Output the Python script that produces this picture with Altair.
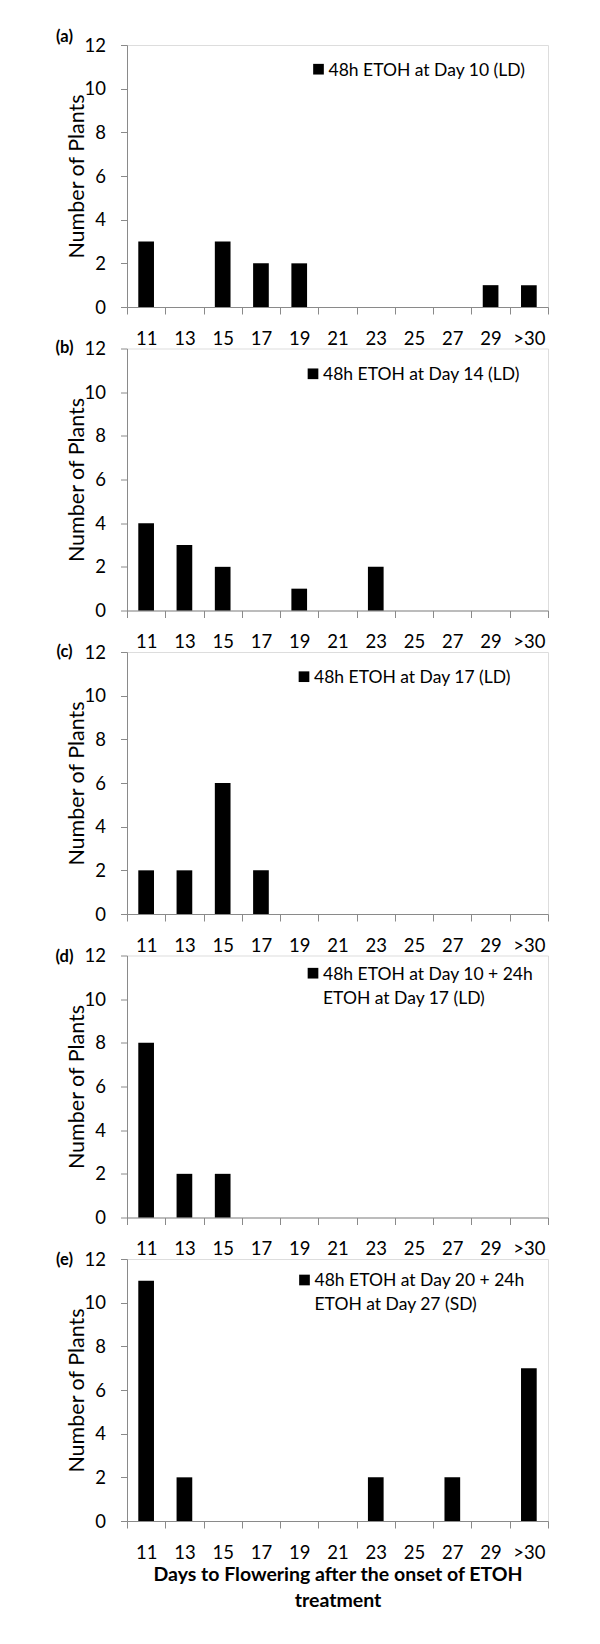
import altair as alt
import pandas as pd

categories = ["11", "13", "15", "17", "19", "21", "23", "25", "27", "29", ">30"]
panel_letters = ["(a)", "(b)", "(c)", "(d)", "(e)"]
legend_labels = [
    "48h ETOH at Day 10 (LD)",
    "48h ETOH at Day 14 (LD)",
    "48h ETOH at Day 17 (LD)",
    "48h ETOH at Day 10 + 24h\nETOH at Day 17 (LD)",
    "48h ETOH at Day 20 + 24h\nETOH at Day 27 (SD)",
]
counts_a = [3, 0, 3, 2, 2, 0, 0, 0, 0, 1, 1]
counts_b = [4, 3, 2, 0, 1, 0, 2, 0, 0, 0, 0]
counts_c = [2, 2, 6, 2, 0, 0, 0, 0, 0, 0, 0]
counts_d = [8, 2, 2, 0, 0, 0, 0, 0, 0, 0, 0]
counts_e = [11, 2, 0, 0, 0, 0, 2, 0, 2, 0, 7]
series = [counts_a, counts_b, counts_c, counts_d, counts_e]
y_ticks = [0, 2, 4, 6, 8, 10, 12]
x_title = ["Days to Flowering after the onset of ETOH", "treatment"]
y_title = "Number of Plants"

# layout (pixels, relative to each plot area)
W, H = 421, 262
legend_pos = [(191.5, 24.2), (186, 25.3), (177, 24.7), (186, 17.7), (177.5, 21.0)]
letter_dy = [-8, -1, 0, 1, 1]

FONT = "Lato"
GRAY = "#8a8a8a"


def panel(i):
    df = pd.DataFrame({"day": categories, "plants": series[i]})
    xaxis_kwargs = dict(
        labelAngle=0, tickBand="extent", tickSize=7, labelPadding=15,
        labelFontSize=18.5, labelColor="black", labelFont=FONT,
        domainColor=GRAY, tickColor=GRAY,
    )
    if i == 4:
        xaxis_kwargs.update(
            titleFont=FONT, titleFontSize=19.5, titleFontWeight="bold",
            titleColor="black", titlePadding=4, titleLineHeight=26,
        )
    bars = alt.Chart(df).mark_bar(color="black", width=alt.RelativeBandSize(0.41)).encode(
        x=alt.X("day:N", sort=categories, title=None if i < 4 else x_title,
                scale=alt.Scale(domain=categories, paddingInner=0, paddingOuter=0),
                axis=alt.Axis(**xaxis_kwargs)),
        y=alt.Y("plants:Q", scale=alt.Scale(domain=[0, 12]),
                axis=alt.Axis(values=y_ticks, title=y_title, titleX=-49.5, titleY=H / 2,
                              titleAngle=-90, titleBaseline="middle", titleAlign="center",
                              titleFont=FONT, titleFontSize=21.5, titleFontWeight="normal",
                              titleColor="black",
                              tickSize=6.5, labelPadding=15, labelFontSize=18.5,
                              labelColor="black", labelFont=FONT,
                              domainColor=GRAY, tickColor=GRAY, grid=False)),
    )
    sx, sy = legend_pos[i]
    leg_df = pd.DataFrame({"label": [legend_labels[i]]})
    square = alt.Chart(leg_df).mark_square(size=114, color="black", opacity=1).encode(
        x=alt.value(sx), y=alt.value(sy))
    text = alt.Chart(leg_df).mark_text(
        align="left", baseline="alphabetic", fontSize=17.5, font=FONT, color="black",
        lineBreak="\n", lineHeight=24,
    ).encode(x=alt.value(sx + 10), y=alt.value(sy + 6.3), text="label:N")
    let_df = pd.DataFrame({"letter": [panel_letters[i]]})
    letter = alt.Chart(let_df).mark_text(
        align="center", baseline="middle", fontSize=16.5, fontWeight="bold", font=FONT,
        color="black",
    ).encode(x=alt.value(-62.5), y=alt.value(letter_dy[i]), text="letter:N")
    return alt.layer(bars, square, text, letter).properties(width=W, height=H)


chart = alt.vconcat(*[panel(i) for i in range(5)], spacing=41.5, bounds="flush").properties(
    padding={"top": 20, "left": 47, "right": 5, "bottom": 5}
).configure_view(stroke=GRAY, strokeWidth=1).configure(background="white")

chart.save("out.html", embed_options={"renderer": "svg", "actions": False})
